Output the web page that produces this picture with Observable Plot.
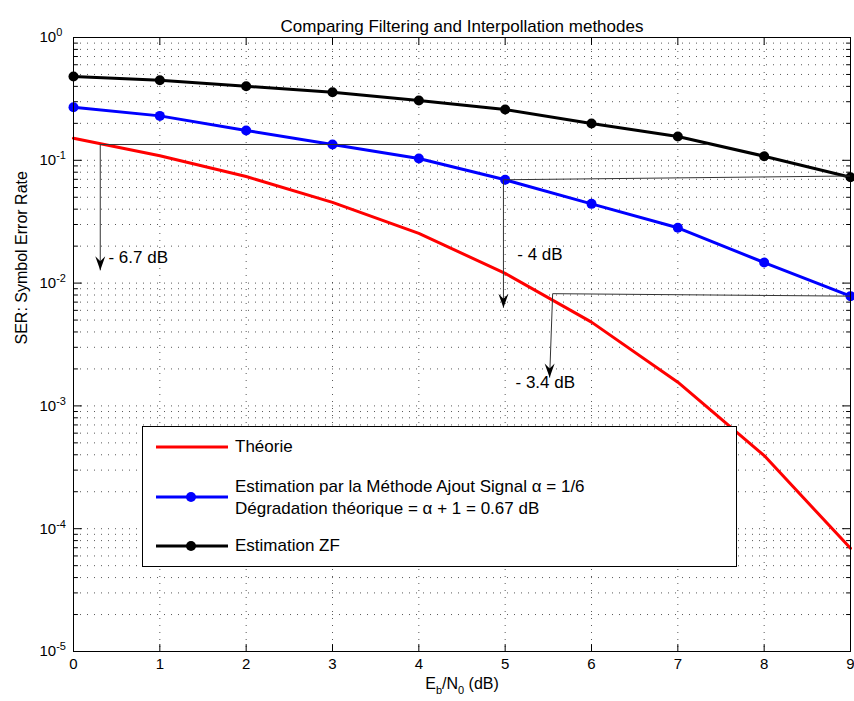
<!DOCTYPE html>
<html>
<head>
<meta charset="utf-8">
<script src="https://cdn.jsdelivr.net/npm/d3@7"></script>
<script src="https://cdn.jsdelivr.net/npm/@observablehq/plot@0.6"></script>
<style>
  body { margin: 0; background: #fff; font-family: "Liberation Sans", Arial, sans-serif; }
  #wrap { position: relative; width: 854px; height: 701px; }
  #wrap svg { display: block; }
  #legend { position: absolute; left: 142px; top: 426px; width: 595px; height: 141px; border: 1px solid #000; background: #fff; box-sizing: border-box; font-size: 17px; color: #000; }
  .row { position: absolute; left: 92px; height: 22px; line-height: 22px; white-space: nowrap; }
  .sw { position: absolute; left: 13px; width: 72px; height: 14px; }
</style>
</head>
<body>
<div id="wrap"></div>
<script>
// ---- data ----
const ebn0 = [0, 1, 2, 3, 4, 5, 6, 7, 8, 9];
const serTheory = [0.151, 0.109, 0.0738, 0.0454, 0.0254, 0.0120, 0.00481, 0.00156, 0.000394, 0.0000692];
const serSignal = [0.270, 0.230, 0.175, 0.1345, 0.1035, 0.0694, 0.0442, 0.0282, 0.0147, 0.00783];
const serZF     = [0.481, 0.448, 0.401, 0.358, 0.307, 0.259, 0.1995, 0.156, 0.108, 0.0728];

const seriesNames = ["Théorie", "Estimation par la Méthode Ajout Signal α = 1/6", "Estimation ZF"];
const seriesSub = "Dégradation théorique = α + 1 = 0.67 dB";
const seriesColors = ["#ff0000", "#0000ff", "#000000"];

const titleText = "Comparing Filtering and Interpollation methodes";
const yLabel = "SER: Symbol Error Rate";
const xLabel = "E_b/N_0 (dB)";

const xTicks = [0, 1, 2, 3, 4, 5, 6, 7, 8, 9];
const yMajorTicks = [1e-5, 1e-4, 1e-3, 1e-2, 1e-1, 1];
const minorMultipliers = [2, 3, 4, 5, 6, 7, 8, 9];
const yMinorTicks = yMajorTicks.slice(0, -1).flatMap(d => minorMultipliers.map(m => m * d));

// annotations (degradation arrows)
const annLabels = ["- 6.7 dB", "- 4 dB", "- 3.4 dB"];
const annStartX = [0.31, 4.98, 5.55];
const annStartY = [0.1345, 0.0694, 0.0082];
const annEndX   = [7.34, 9, 9];
const annEndY   = [0.1345, 0.0745, 0.00783];
const annTipX   = [0.31, 4.98, 5.515];
const annTipY   = [0.0127, 0.0063, 0.0017];
const annTextX  = [0.405, 5.14, 5.12];
const annTextY  = [0.0161, 0.0171, 0.00155];

// ---- build ----
const rows = [];
ebn0.forEach((x, i) => {
  rows.push({x, y: serTheory[i], s: 0});
  rows.push({x, y: serSignal[i], s: 1});
  rows.push({x, y: serZF[i], s: 2});
});
const annIdx = annLabels.map((_, i) => i);

const tickLeft   = {draw(c, l) { c.moveTo(0, 0); c.lineTo(l, 0); }};
const tickRight  = {draw(c, l) { c.moveTo(0, 0); c.lineTo(-l, 0); }};
const tickTop    = {draw(c, l) { c.moveTo(0, 0); c.lineTo(0, l); }};
const tickBottom = {draw(c, l) { c.moveTo(0, 0); c.lineTo(0, -l); }};
const arrowHead  = {draw(c) { c.moveTo(0, 0); c.lineTo(-5, -14); c.lineTo(0, -9); c.lineTo(5, -14); c.closePath(); }};

const gridStyle = {stroke: "#222", strokeOpacity: 0.75, strokeWidth: 1, strokeDasharray: "1,6"};
const tk = (data, shape, anchor, len, isX) => (isX ? Plot.vectorX : Plot.vectorY)(data, {
  [isX ? "x" : "y"]: d => d, frameAnchor: anchor, length: len, anchor: "start", shape, stroke: "#000", strokeWidth: 1
});

const svg = Plot.plot({
  width: 854,
  height: 701,
  marginLeft: 73,
  marginRight: 4,
  marginTop: 37,
  marginBottom: 50,
  style: {fontFamily: '"Liberation Sans", Arial, sans-serif', fontSize: "15px", background: "#fff", color: "#000"},
  x: {domain: [0, 9]},
  y: {type: "log", domain: [1e-5, 1]},
  marks: [
    Plot.gridX(xTicks, gridStyle),
    Plot.gridY(yMajorTicks.concat(yMinorTicks), gridStyle),
    tk(yMajorTicks, tickLeft, "left", 8, false),
    tk(yMinorTicks, tickLeft, "left", 4, false),
    tk(yMajorTicks, tickRight, "right", 8, false),
    tk(yMinorTicks, tickRight, "right", 4, false),
    tk(xTicks, tickTop, "top", 7, true),
    tk(xTicks, tickBottom, "bottom", 7, true),
    Plot.axisX(xTicks, {tickSize: 0, tickPadding: 7, fontSize: 15, label: null}),
    Plot.axisY(yMajorTicks, {tickSize: 0, tickPadding: 34, textAnchor: "start", fontSize: 15, label: null,
      tickFormat: d => `10^${Math.round(Math.log10(d))}`}),
    Plot.line(rows, {x: "x", y: "y", z: "s", stroke: d => seriesColors[d.s], strokeWidth: 3}),
    Plot.dot(rows.filter(d => d.s > 0), {x: "x", y: "y", r: 5, fill: d => seriesColors[d.s], stroke: "none"}),
    Plot.link(annIdx, {x1: i => annStartX[i], y1: i => annStartY[i], x2: i => annEndX[i], y2: i => annEndY[i], stroke: "#333", strokeWidth: 1}),
    Plot.link(annIdx, {x1: i => annStartX[i], y1: i => annStartY[i], x2: i => annTipX[i], y2: i => annTipY[i], stroke: "#333", strokeWidth: 1}),
    Plot.dot(annIdx, {x: i => annTipX[i], y: i => annTipY[i], symbol: arrowHead, fill: "#000", stroke: "none"}),
    Plot.text(annIdx, {x: i => annTextX[i], y: i => annTextY[i], text: i => annLabels[i], textAnchor: "start", fontSize: 17, fill: "#000"}),
    Plot.text([titleText], {frameAnchor: "top", dy: -18, text: d => d, fontSize: 17, fill: "#000"}),
    Plot.text([yLabel], {frameAnchor: "left", dx: -52, rotate: -90, text: d => d, fontSize: 16, fill: "#000"}),
    Plot.text([xLabel], {frameAnchor: "bottom", dy: 37, text: d => d, fontSize: 16, fill: "#000"}),
    Plot.frame({stroke: "#000", strokeWidth: 1})
  ]
});

// superscript exponents on y tick labels, subscripts on x label
const NS = "http://www.w3.org/2000/svg";
function tspan(txt, attrs) {
  const t = document.createElementNS(NS, "tspan");
  t.textContent = txt;
  for (const k in attrs) t.setAttribute(k, attrs[k]);
  return t;
}
svg.querySelectorAll('g[aria-label="y-axis tick label"] text').forEach(t => {
  const [b, e] = t.textContent.split("^");
  t.textContent = "";
  t.append(tspan(b, {}), tspan(e, {dy: "-6", "font-size": "11px"}));
});
svg.querySelectorAll("text").forEach(t => {
  if (t.textContent === xLabel) {
    t.textContent = "";
    t.append(
      tspan("E", {}),
      tspan("b", {dy: "5", "font-size": "11px"}),
      tspan("/N", {dy: "-5"}),
      tspan("0", {dy: "5", "font-size": "11px"}),
      tspan(" (dB)", {dy: "-5"})
    );
  }
});

const wrap = document.getElementById("wrap");
wrap.appendChild(svg);

// legend box inside the axes
const legend = document.createElement("div");
legend.id = "legend";
function swatch(color, withDot, top) {
  const s = document.createElementNS(NS, "svg");
  s.setAttribute("class", "sw");
  s.setAttribute("width", 72); s.setAttribute("height", 14);
  s.style.top = top + "px";
  const l = document.createElementNS(NS, "line");
  l.setAttribute("x1", 0); l.setAttribute("x2", 72); l.setAttribute("y1", 7); l.setAttribute("y2", 7);
  l.setAttribute("stroke", color); l.setAttribute("stroke-width", 3);
  s.appendChild(l);
  if (withDot) {
    const c = document.createElementNS(NS, "circle");
    c.setAttribute("cx", 35); c.setAttribute("cy", 7); c.setAttribute("r", 5); c.setAttribute("fill", color);
    s.appendChild(c);
  }
  return s;
}
function row(text, top) {
  const d = document.createElement("div");
  d.className = "row";
  d.style.top = top + "px";
  d.textContent = text;
  return d;
}
legend.append(
  swatch(seriesColors[0], false, 13), row(seriesNames[0], 9),
  swatch(seriesColors[1], true, 63), row(seriesNames[1], 49), row(seriesSub, 71),
  swatch(seriesColors[2], true, 112), row(seriesNames[2], 108)
);
wrap.appendChild(legend);
</script>
</body>
</html>
